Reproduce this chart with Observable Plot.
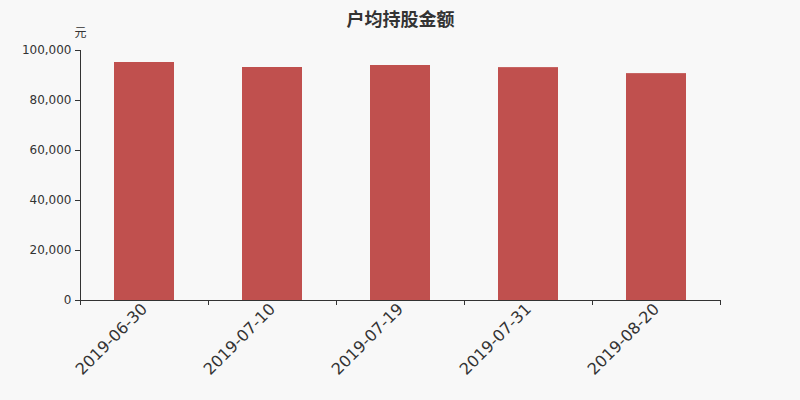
<!DOCTYPE html>
<html>
<head>
<meta charset="utf-8">
<script src="https://cdn.jsdelivr.net/npm/d3@7"></script>
<script src="https://cdn.jsdelivr.net/npm/@observablehq/plot@0.6"></script>
<style>
  html, body { margin: 0; padding: 0; background: #f8f8f8; }
  #chart svg { display: block; background: #f8f8f8; font-family: "DejaVu Sans", "Noto Sans CJK SC", sans-serif; }
</style>
</head>
<body>
<div id="chart"></div>
<script>
const categories = ["2019-06-30", "2019-07-10", "2019-07-19", "2019-07-31", "2019-08-20"];
const values = [95200, 93200, 94000, 93150, 90750];
const yTicks = [0, 20000, 40000, 60000, 80000, 100000];
const title = "户均持股金额";
const unit = "元";

const data = categories.map((c, i) => ({date: c, value: values[i]}));
const axisColor = "#333";

const plot = Plot.plot({
  width: 800,
  height: 400,
  marginLeft: 80,
  marginRight: 80,
  marginTop: 50,
  marginBottom: 100,
  style: {background: "#f8f8f8", color: "#333", fontFamily: "DejaVu Sans, Noto Sans CJK SC, sans-serif"},
  x: {type: "band", domain: categories, padding: 0},
  y: {domain: [0, 100000]},
  marks: [
    Plot.barY(data, {x: "date", y: "value", fill: "#c0504e", insetLeft: 34, insetRight: 34}),
    Plot.ruleY([0], {stroke: axisColor, strokeWidth: 1}),
    Plot.axisY({ticks: yTicks, tickFormat: d3.format(","), tickSize: 5, tickPadding: 4, fontSize: 12, label: null, stroke: axisColor, fill: axisColor}),
    Plot.axisX({tickSize: 0, tickPadding: 6, tickRotate: -45, fontSize: 16, label: null, fill: axisColor}),
    Plot.text([title], {frameAnchor: "top", dy: -37, fontSize: 18, fontWeight: "bold", fill: "#333", fontFamily: "Noto Sans CJK SC"}),
    Plot.text([unit], {frameAnchor: "top-left", dy: -22, textAnchor: "middle", fontSize: 12, fill: "#333", fontFamily: "Noto Sans CJK SC"})
  ]
});

// y axis line and band-boundary ticks computed from the scales
const xs = plot.scale("x");
const ys = plot.scale("y");
const svg = d3.select(plot);
const y0 = ys.apply(0), y1 = ys.apply(100000);
const xLeft = xs.range[0];
const g = svg.append("g").attr("stroke", axisColor).attr("stroke-width", 1);
g.append("line").attr("x1", xLeft + 0.5).attr("x2", xLeft + 0.5).attr("y1", y1).attr("y2", y0);
const bounds = categories.map(c => xs.apply(c)).concat([xs.apply(categories[categories.length - 1]) + xs.bandwidth]);
bounds.forEach(b => {
  g.append("line").attr("x1", b + 0.5).attr("x2", b + 0.5).attr("y1", y0).attr("y2", y0 + 5);
});

document.getElementById("chart").appendChild(plot);
</script>
</body>
</html>
